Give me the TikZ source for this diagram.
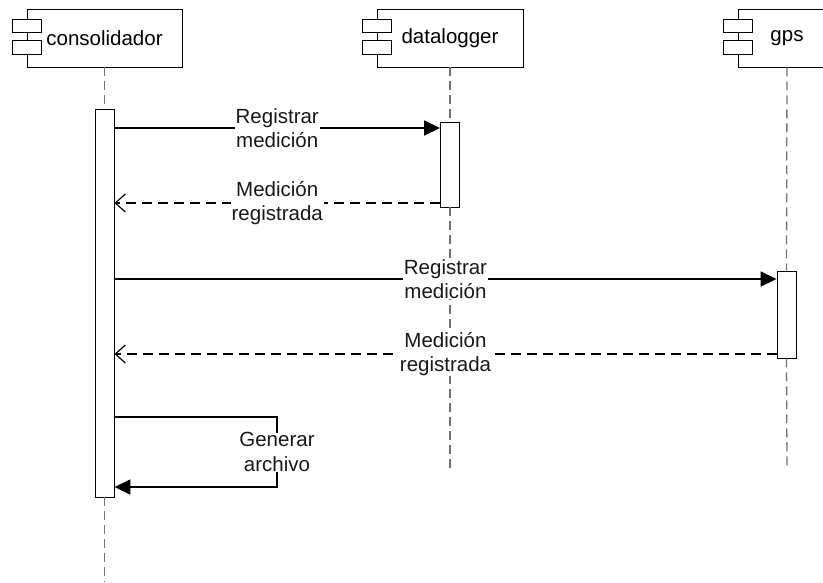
\documentclass[tikz,border=0pt]{standalone}
\usepackage{fontspec}
\setmainfont{Liberation Sans}
\usetikzlibrary{arrows.meta}

\tikzset{
  partbox/.style={draw=black, line width=0.9pt, fill=white, rectangle,
    minimum height=58pt, inner sep=0pt, font=\fontsize{20.5}{24}\selectfont},
  iconbox/.style={draw=black, line width=0.9pt, fill=white, rectangle,
    minimum width=29pt, minimum height=13.5pt, inner sep=0pt},
  actbar/.style={draw=black, line width=0.9pt, fill=white, rectangle,
    minimum width=19pt, inner sep=0pt},
  life/.style={draw=black!55, line width=1.3pt, dash pattern=on 9pt off 5pt},
  call/.style={draw=black, line width=1.6pt, -{Triangle[length=16pt,width=15pt]}},
  reply/.style={draw=black, line width=1.4pt, dash pattern=on 10pt off 6pt,
    -{Straight Barb[length=10pt,width=18pt,line width=1.2pt]}},
  msglabel/.style={fill=white, align=center, inner xsep=1pt, inner ysep=0pt,
    font=\fontsize{20.5}{24.5}\selectfont, text=black!90},
}

\begin{document}
\begin{tikzpicture}[x=1pt, y=-1pt]
\useasboundingbox (0,0) rectangle (823,582);
\clip (0,0) rectangle (823,582);

% lifeline end points
\coordinate (endC) at (104.5,582);
\coordinate (endD) at (450,468);
\coordinate (endG) at (787,468);

% activation bars
\node[actbar, minimum height=388pt] (actC) at (104.5,303) {};
\node[actbar, minimum height=85pt]  (actD) at (450,164.5) {};
\node[actbar, minimum height=87pt]  (actG) at (786.5,314.5) {};

% participants
\node[partbox, minimum width=155pt] (pC) at (104.5,38) {consolidador};
\node[partbox, minimum width=146pt] (pD) at (450,38) {datalogger};
\node[partbox, minimum width=98pt]  (pG) at (787,38) {gps};

% component icons on the left edge of each participant
\foreach \p in {pC,pD,pG}{
  \node[iconbox] at ([xshift=0.5pt,yshift=-17.5pt]\p.north west) {};
  \node[iconbox] at ([xshift=0.5pt,yshift=-39pt]\p.north west) {};
}

% lifelines
\draw[life] (pC.south) -- (actC.north);
\draw[life] (actC.south) -- (endC);
\draw[life] (pD.south) -- (actD.north);
\draw[life] (actD.south) -- (endD);
\draw[life] (pG.south) -- (actG.north);
\draw[life] (actG.south) -- (endG);

% message heights
\coordinate (y1) at (0,128);
\coordinate (y2) at (0,203);
\coordinate (y3) at (0,279);
\coordinate (y4) at (0,354);
\coordinate (y5) at (0,417);
\coordinate (y6) at (0,487);
\coordinate (loopx) at (277,0);

% messages
\draw[call] (actC.east |- y1) -- node[msglabel] {Registrar\\medición} (actD.west |- y1);
\draw[reply] (actD.west |- y2) -- node[msglabel] {Medición\\registrada} (actC.east |- y2);
\draw[call] (actC.east |- y3) -- node[msglabel] {Registrar\\medición} (actG.west |- y3);
\draw[reply] (actG.west |- y4) -- node[msglabel] {Medición\\registrada} (actC.east |- y4);

% self call
\draw[call] (actC.east |- y5) -- (loopx |- y5)
  -- node[msglabel] {Generar\\archivo} (loopx |- y6) -- (actC.east |- y6);
\end{tikzpicture}
\end{document}
